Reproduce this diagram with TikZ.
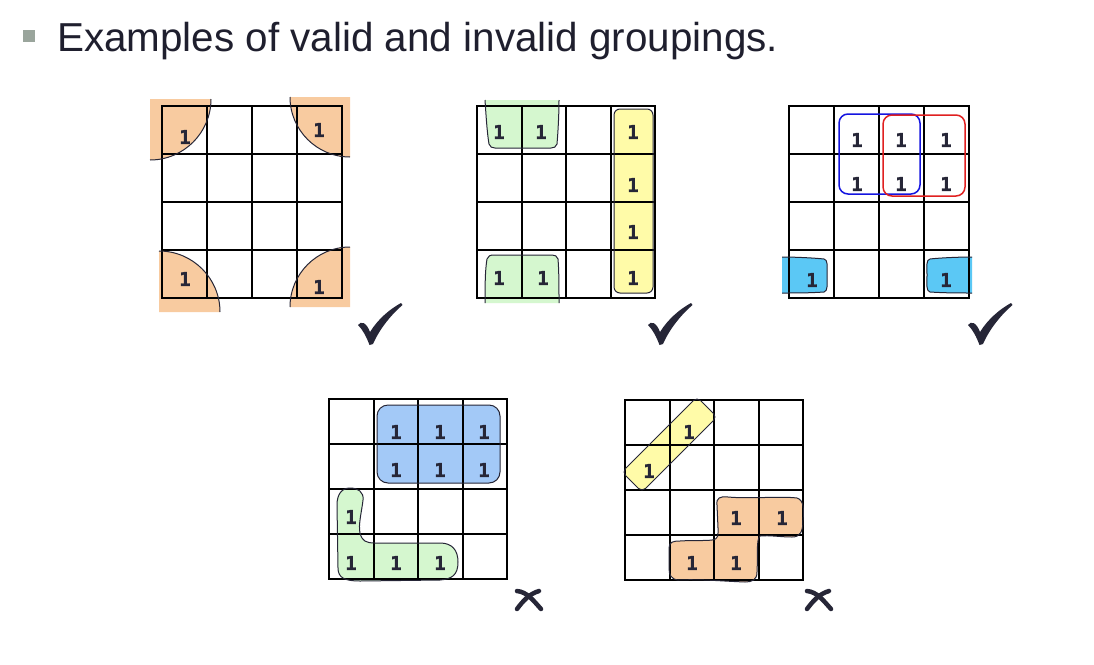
\documentclass[tikz,border=0pt]{standalone}
\usepackage{fontspec}
\setmainfont{Liberation Sans}
\newfontfamily\digitfont{DejaVu Sans Mono Bold}[FakeBold=1.6]
\definecolor{inkc}{HTML}{262637}
\definecolor{titlec}{HTML}{1F1F2E}
\definecolor{bulletc}{HTML}{9AA59C}
\definecolor{orangec}{HTML}{F8CBA0}
\definecolor{greenc}{HTML}{D5F7CF}
\definecolor{yellowc}{HTML}{FFFBA8}
\definecolor{cyanc}{HTML}{5BC8F5}
\definecolor{bluefc}{HTML}{A3C9F7}
\definecolor{bluec}{HTML}{1414E0}
\definecolor{redc}{HTML}{E02020}
\newcommand\kmap[4]{\foreach \k in {0,...,4}{%
  \draw[gridln] ({round(#1+\k*#3)},#2) -- ({round(#1+\k*#3)},{#2+4*#4});
  \draw[gridln] (#1,{round(#2+\k*#4)}) -- ({#1+4*#3},{round(#2+\k*#4)});}}
\tikzset{
  gridln/.style={line width=1.2pt, black, line cap=rect},
  one/.style={font=\digitfont\fontsize{19}{19}\selectfont, text=inkc, inner sep=0pt},
  grpline/.style={line width=1pt, draw=inkc},
  checkmk/.pic={\fill[inkc] (0,22) .. controls (3,17.5) and (8.5,19.5) .. (12,29)
      .. controls (20,16) and (32,6) .. (43,0) -- (44.5,2)
      .. controls (34,11) and (22,25) .. (15,41) -- (11.5,42)
      .. controls (8.5,34) and (5,27) .. (0,22) -- cycle;},
  crossmk/.pic={\draw[inkc, line width=4.5pt, line cap=round] (2,3) .. controls (12,4) and (18,12) .. (26,21);
      \draw[inkc, line width=4.5pt, line cap=round] (24,3) .. controls (14,6) and (8,13) .. (2,21);}
}
\begin{document}
\begin{tikzpicture}[x=1pt,y=-1pt]
\path[use as bounding box, fill=white] (0,0) rectangle (1094,664);
% title
\fill[bulletc] (23,30) rectangle (35,42);
\node[anchor=base west, inner sep=0pt, text=titlec, font=\fontsize{40.4}{48}\selectfont] (title) at (57,51) {Examples of valid and invalid groupings.};

% ---------- map 1 ----------
\fill[orangec] (150,99) -- (211,99) arc[start angle=0,end angle=-90,radius=61pt] -- cycle;
\fill[orangec] (350,97) -- (290,97) arc[start angle=180,end angle=270,radius=60pt] -- cycle;
\fill[orangec] (159,312) -- (159,251) arc[start angle=90,end angle=0,radius=61pt] -- cycle;
\fill[orangec] (350,307) -- (290,307) arc[start angle=180,end angle=90,radius=60pt] -- cycle;
\kmap{162}{106}{45}{48}
\draw[grpline] (211,99) arc[start angle=0,end angle=-90,radius=61pt];
\draw[grpline] (290,97) arc[start angle=180,end angle=270,radius=60pt];
\draw[grpline] (159,251) arc[start angle=90,end angle=0,radius=61pt];
\draw[grpline] (290,307) arc[start angle=180,end angle=90,radius=60pt];
\node[one] (a1) at (185,137) {1};
\node[one] (a2) at (319,130) {1};
\node[one] (a3) at (185,279) {1};
\node[one] (a4) at (319,287) {1};

% ---------- map 2 ----------
\fill[greenc] (485,100) .. controls (486,115) and (487,132) .. (489,144) .. controls (490,147) and (492,148) .. (495,148)
  -- (551,148) .. controls (554,148) and (556,147) .. (557,144) .. controls (558,132) and (559,115) .. (559,100) -- cycle;
\fill[greenc] (485,303) .. controls (485,290) and (485,270) .. (487,259) .. controls (488,256) and (490,255) .. (494,255)
  -- (552,255) .. controls (555,255) and (557,256) .. (558,259) .. controls (559,270) and (559,290) .. (559,303) -- cycle;
\fill[yellowc, rounded corners=6pt] (614,109) rectangle (653,293);
\kmap{477}{106}{44.5}{48}
\draw[grpline] (485,100) .. controls (486,115) and (487,132) .. (489,144) .. controls (490,147) and (492,148) .. (495,148)
  -- (551,148) .. controls (554,148) and (556,147) .. (557,144) .. controls (558,132) and (559,115) .. (559,100);
\draw[grpline] (485,303) .. controls (485,290) and (485,270) .. (487,259) .. controls (488,256) and (490,255) .. (494,255)
  -- (552,255) .. controls (555,255) and (557,256) .. (558,259) .. controls (559,270) and (559,290) .. (559,303);
\draw[grpline, rounded corners=6pt] (614,109) rectangle (653,293);
\node[one] (b1) at (499,132) {1};
\node[one] (b2) at (541,132) {1};
\node[one] (b3) at (633,132) {1};
\node[one] (b4) at (633,185) {1};
\node[one] (b5) at (633,232) {1};
\node[one] (b6) at (633,278) {1};
\node[one] (b7) at (499,278) {1};
\node[one] (b8) at (543,278) {1};

% ---------- map 3 ----------
\fill[cyanc] (782,257) .. controls (795,257) and (815,258) .. (824,259) .. controls (828,260) and (827,265) .. (827,275)
  .. controls (827,285) and (828,291) .. (824,292) .. controls (810,293) and (795,293) .. (782,293) -- cycle;
\fill[cyanc] (972,257) .. controls (958,257) and (938,258) .. (930,259) .. controls (926,260) and (927,265) .. (927,275)
  .. controls (927,285) and (926,291) .. (930,292) .. controls (945,293) and (960,293) .. (972,293) -- cycle;
\kmap{789}{106}{45}{48}
\draw[grpline] (782,257) .. controls (795,257) and (815,258) .. (824,259) .. controls (828,260) and (827,265) .. (827,275)
  .. controls (827,285) and (828,291) .. (824,292) .. controls (810,293) and (795,293) .. (782,293);
\draw[grpline] (972,257) .. controls (958,257) and (938,258) .. (930,259) .. controls (926,260) and (927,265) .. (927,275)
  .. controls (927,285) and (926,291) .. (930,292) .. controls (945,293) and (960,293) .. (972,293);
\draw[bluec, line width=1.5pt, rounded corners=9pt] (839,114) rectangle (920,194);
\draw[redc, line width=1.5pt, rounded corners=9pt] (883,115) rectangle (965,196);
\node[one] (c1) at (857,140) {1};
\node[one] (c2) at (901,140) {1};
\node[one] (c3) at (946,140) {1};
\node[one] (c4) at (857,184) {1};
\node[one] (c5) at (901,184) {1};
\node[one] (c6) at (946,184) {1};
\node[one] (c7) at (812,280) {1};
\node[one] (c8) at (946,280) {1};

% ---------- map 4 ----------
\fill[bluefc, rounded corners=11pt] (377,405) rectangle (500,483);
\fill[greenc] (350,488) .. controls (358,488) and (364,492) .. (363,500)
  .. controls (362,510) and (358,525) .. (360,533)
  .. controls (362,541) and (366,543) .. (375,543) -- (440,543)
  .. controls (452,543) and (458,550) .. (458,562)
  .. controls (458,575) and (452,579) .. (440,580) -- (360,581)
  .. controls (345,581) and (338,578) .. (338,568) -- (337,505)
  .. controls (337,494) and (342,488) .. (350,488) -- cycle;
\kmap{329}{399}{44.6}{45}
\draw[grpline, rounded corners=11pt] (377,405) rectangle (500,483);
\draw[grpline] (350,488) .. controls (358,488) and (364,492) .. (363,500)
  .. controls (362,510) and (358,525) .. (360,533)
  .. controls (362,541) and (366,543) .. (375,543) -- (440,543)
  .. controls (452,543) and (458,550) .. (458,562)
  .. controls (458,575) and (452,579) .. (440,580) -- (360,581)
  .. controls (345,581) and (338,578) .. (338,568) -- (337,505)
  .. controls (337,494) and (342,488) .. (350,488) -- cycle;
\node[one] (d1) at (396,432) {1};
\node[one] (d2) at (440,432) {1};
\node[one] (d3) at (484,432) {1};
\node[one] (d4) at (396,470) {1};
\node[one] (d5) at (440,470) {1};
\node[one] (d6) at (484,470) {1};
\node[one] (d7) at (351,517) {1};
\node[one] (d8) at (351,563) {1};
\node[one] (d9) at (396,563) {1};
\node[one] (d10) at (440,563) {1};

% ---------- map 5 ----------
\fill[yellowc, rounded corners=5pt] (697,397) -- (717,417) -- (642,492) -- (622,472) -- cycle;
\fill[orangec] (717,505) .. controls (716,498) and (720,496) .. (728,497)
  .. controls (750,499) and (780,496) .. (797,498)
  .. controls (804,500) and (804,510) .. (803,520)
  .. controls (803,532) and (800,537) .. (792,537)
  .. controls (780,537) and (770,535) .. (760,536)
  .. controls (756,540) and (758,555) .. (757,572)
  .. controls (757,580) and (752,582) .. (745,582)
  .. controls (720,581) and (700,579) .. (678,580)
  .. controls (671,579) and (669,575) .. (669,568) -- (669,548)
  .. controls (669,542) and (673,541) .. (680,541)
  .. controls (695,540) and (705,541) .. (712,540)
  .. controls (719,539) and (718,535) .. (718,528) -- cycle;
\kmap{625}{400}{44.5}{45}
\draw[grpline, rounded corners=5pt] (697,397) -- (717,417) -- (642,492) -- (622,472) -- cycle;
\draw[grpline] (717,505) .. controls (716,498) and (720,496) .. (728,497)
  .. controls (750,499) and (780,496) .. (797,498)
  .. controls (804,500) and (804,510) .. (803,520)
  .. controls (803,532) and (800,537) .. (792,537)
  .. controls (780,537) and (770,535) .. (760,536)
  .. controls (756,540) and (758,555) .. (757,572)
  .. controls (757,580) and (752,582) .. (745,582)
  .. controls (720,581) and (700,579) .. (678,580)
  .. controls (671,579) and (669,575) .. (669,568) -- (669,548)
  .. controls (669,542) and (673,541) .. (680,541)
  .. controls (695,540) and (705,541) .. (712,540)
  .. controls (719,539) and (718,535) .. (718,528) -- cycle;
\node[one] (e1) at (689,432) {1};
\node[one] (e2) at (649,471) {1};
\node[one] (e3) at (736,518) {1};
\node[one] (e4) at (782,518) {1};
\node[one] (e5) at (692,563) {1};
\node[one] (e6) at (736,563) {1};

% ---------- marks ----------
\pic at (358,303) {checkmk};
\pic at (648,303) {checkmk};
\pic at (968,303) {checkmk};
\pic at (515,588) {crossmk};
\pic at (805,588) {crossmk};
\end{tikzpicture}
\end{document}
